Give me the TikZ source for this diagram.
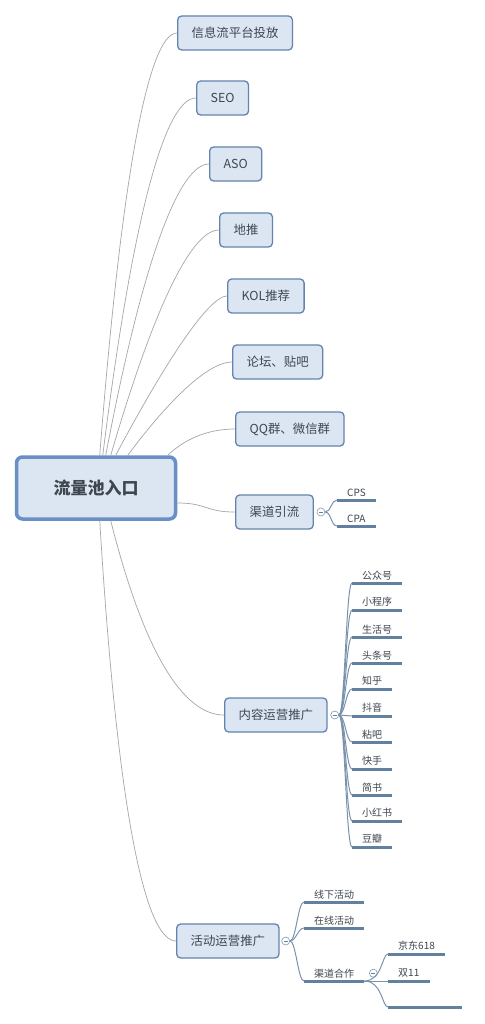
\documentclass[tikz,border=0pt]{standalone}
\usepackage{fontspec}
\setmainfont{Noto Sans CJK SC}
\usetikzlibrary{calc}

\definecolor{topicfill}{HTML}{DCE6F2}
\definecolor{topicline}{HTML}{6384AE}
\definecolor{rootline}{HTML}{6A8FC6}
\definecolor{topictext}{HTML}{3E4650}
\definecolor{trunkgray}{HTML}{A6A6A6}
\definecolor{twigblue}{HTML}{62809F}

\begin{document}
\begin{tikzpicture}[x=1pt,y=-1pt,
    every node/.style={text=topictext},
    topic/.style={draw=topicline,fill=topicfill,line width=1.3pt,rounded corners=4pt,
        minimum height=34pt,inner xsep=14pt,anchor=west,font=\fontsize{12.4}{14}\selectfont},
    root/.style={draw=rootline,fill=topicfill,line width=3.5pt,rounded corners=6pt,
        minimum width=159pt,minimum height=62pt,font=\fontsize{17}{20}\selectfont\bfseries},
    leaf/.style={anchor=south west,inner xsep=10pt,inner ysep=3pt,font=\fontsize{10}{12}\selectfont,
        append after command={(\tikzlastnode.south west) edge[twig] (\tikzlastnode.south east)}},
    fold/.style={circle,draw=twigblue!80,fill=white,line width=0.6pt,minimum size=8pt,inner sep=0pt,
        path picture={\draw[twigblue,line width=0.6pt] ([xshift=2pt]path picture bounding box.west) -- ([xshift=-2pt]path picture bounding box.east);}},
    trunk/.style={draw=trunkgray,line width=0.7pt},
    branch/.style={draw=twigblue!85,line width=1pt},
    twig/.style={draw=twigblue,line width=3pt}
]
\fill[white] (0,0) rectangle (484,1024);
\useasboundingbox (0,0) rectangle (484,1024);

% main topics
\node[root] (root) at (96,488) {流量池入口};
\node[topic] (info) at (177,33) {信息流平台投放};
\node[topic] (seo) at (196,98) {SEO};
\node[topic] (aso) at (209,164) {ASO};
\node[topic] (ditui) at (219,230) {地推};
\node[topic] (kol) at (227,296) {KOL推荐};
\node[topic] (bbs) at (232,362) {论坛、贴吧};
\node[topic] (qq) at (235,429) {QQ群、微信群};
\node[topic] (qudao) at (235,512) {渠道引流};
\node[topic] (neirong) at (224,715) {内容运营推广};
\node[topic] (huodong) at (176,941) {活动运营推广};

\draw[trunk] ($(root.north west)+(85,0)$) .. controls +(22,-283) and +(-28,0) .. (info.west);
\draw[trunk] ($(root.north west)+(88,0)$) .. controls +(30,-239) and +(-31,0) .. (seo.west);
\draw[trunk] ($(root.north west)+(91,0)$) .. controls +(37,-195) and +(-30,0) .. (aso.west);
\draw[trunk] ($(root.north west)+(96,0)$) .. controls +(44,-151) and +(-27,0) .. (ditui.west);
\draw[trunk] ($(root.north west)+(101,0)$) .. controls +(57,-107) and +(-16,0) .. (kol.west);
\draw[trunk] ($(root.north west)+(113,0)$) .. controls +(47,-63) and +(-21,0) .. (bbs.west);
\draw[trunk] ($(root.north west)+(153,0)$) .. controls +(20,-19) and +(-23,0) .. (qq.west);
\draw[trunk] ($(root.east)+(0,15)$) .. controls +(30,0) and +(-30,0) .. (qudao.west);
\draw[trunk] ($(root.south west)+(96,0)$) .. controls +(33,131) and +(-41,0) .. (neirong.west);
\draw[trunk] ($(root.south west)+(85,0)$) .. controls +(17,281) and +(-32,0) .. (huodong.west);

% 渠道引流
\node[fold] (qdfold) at ($(qudao.east)+(7,0)$) {};
\node[leaf] (cps) at (337,500) {CPS};
\node[leaf] (cpa) at (337,526) {CPA};
\draw[branch] (qdfold.east) .. controls +(6,0) and +(-6,0) .. (cps.south west);
\draw[branch] (qdfold.east) .. controls +(6,0) and +(-6,0) .. (cpa.south west);

% 内容运营推广
\node[fold] (nrfold) at ($(neirong.east)+(7,0)$) {};
\node[leaf] (gzh) at (352,583) {公众号};
\node[leaf] (xcx) at (352,610) {小程序};
\node[leaf] (shh) at (352,637) {生活号};
\node[leaf] (tth) at (352,663) {头条号};
\node[leaf] (zhihu) at (352,689) {知乎};
\node[leaf] (douyin) at (352,716) {抖音};
\node[leaf] (tieba) at (352,742) {粘吧};
\node[leaf] (kuaishou) at (352,769) {快手};
\node[leaf] (jianshu) at (352,795) {简书};
\node[leaf] (xhs) at (352,821) {小红书};
\node[leaf] (douban) at (352,847) {豆瓣};
\draw[branch] (nrfold.east) .. controls +(6,0) and +(-6,0) .. (gzh.south west);
\draw[branch] (nrfold.east) .. controls +(6,0) and +(-6,0) .. (xcx.south west);
\draw[branch] (nrfold.east) .. controls +(6,0) and +(-6,0) .. (shh.south west);
\draw[branch] (nrfold.east) .. controls +(6,0) and +(-6,0) .. (tth.south west);
\draw[branch] (nrfold.east) .. controls +(6,0) and +(-6,0) .. (zhihu.south west);
\draw[branch] (nrfold.east) .. controls +(6,0) and +(-6,0) .. (douyin.south west);
\draw[branch] (nrfold.east) .. controls +(6,0) and +(-6,0) .. (tieba.south west);
\draw[branch] (nrfold.east) .. controls +(6,0) and +(-6,0) .. (kuaishou.south west);
\draw[branch] (nrfold.east) .. controls +(6,0) and +(-6,0) .. (jianshu.south west);
\draw[branch] (nrfold.east) .. controls +(6,0) and +(-6,0) .. (xhs.south west);
\draw[branch] (nrfold.east) .. controls +(6,0) and +(-6,0) .. (douban.south west);

% 活动运营推广
\node[fold] (hdfold) at ($(huodong.east)+(6,0)$) {};
\node[leaf] (xianxia) at (304,902) {线下活动};
\node[leaf] (zaixian) at (304,928) {在线活动};
\node[leaf] (hezuo) at (304,981) {渠道合作};
\draw[branch] (hdfold.east) .. controls +(6,0) and +(-6,0) .. (xianxia.south west);
\draw[branch] (hdfold.east) .. controls +(6,0) and +(-6,0) .. (zaixian.south west);
\draw[branch] (hdfold.east) .. controls +(6,0) and +(-6,0) .. (hezuo.south west);

\node[fold] (hzfold) at ($(hezuo.east)+(9,0)$) {};
\node[leaf] (jd) at (388,954) {京东618};
\node[leaf] (s11) at (388,981) {双11};
\node[leaf,minimum width=74pt] (third) at (388,1007) {};
\draw[branch] (hezuo.south east) -- (s11.south west);
\draw[branch] (hezuo.south east) .. controls +(18,0) and +(-6,0) .. (jd.south west);
\draw[branch] (hezuo.south east) .. controls +(18,0) and +(-6,0) .. (third.south west);

\end{tikzpicture}
\end{document}
